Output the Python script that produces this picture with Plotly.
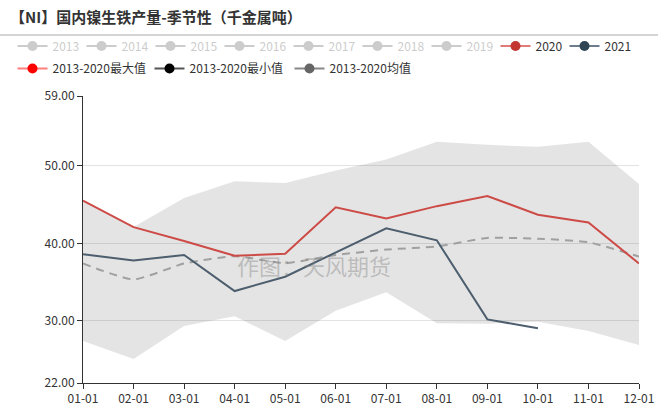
import plotly.graph_objects as go

FONT = "Noto Sans CJK SC"

months = ["01-01", "02-01", "03-01", "04-01", "05-01", "06-01",
          "07-01", "08-01", "09-01", "10-01", "11-01", "12-01"]
hidden_years = ["2013", "2014", "2015", "2016", "2017", "2018", "2019"]
y2020 = [45.5, 42.1, 40.3, 38.4, 38.65, 44.65, 43.2, 44.8, 46.1, 43.7, 42.7, 37.4]
y2021 = [38.6, 37.8, 38.5, 33.85, 35.7, 38.8, 41.95, 40.4, 30.2, 29.05]
ymax = [45.5, 42.1, 45.85, 48.0, 47.8, 49.4, 50.8, 53.1, 52.7, 52.45, 53.1, 47.65]
ymin = [27.4, 25.1, 29.35, 30.6, 27.4, 31.3, 33.7, 29.7, 29.65, 29.9, 28.7, 26.9]
ymean = [37.4, 35.35, 37.4, 38.35, 37.45, 38.5, 39.2, 39.6, 40.7, 40.6, 40.15, 38.3]
y_ticks = [22, 30, 40, 50, 59]

W, H = 662, 411
fig = go.Figure()

# band min-max
fig.add_trace(go.Scatter(x=months, y=ymin, mode="lines", line=dict(width=0),
                         showlegend=False, hoverinfo="skip"))
fig.add_trace(go.Scatter(x=months, y=ymax, mode="lines", line=dict(width=0),
                         fill="tonexty", fillcolor="rgba(0,0,0,0.105)",
                         showlegend=False, hoverinfo="skip"))
# mean
fig.add_trace(go.Scatter(x=months, y=ymean, mode="lines",
                         line=dict(color="#a0a0a0", width=2, dash="8px,6px",
                                   shape="spline", smoothing=0.5),
                         showlegend=False, legendgroup="mean"))
fig.add_trace(go.Scatter(x=months, y=y2020, mode="lines",
                         line=dict(color="#cd4b46", width=2),
                         showlegend=False, legendgroup="2020"))
fig.add_trace(go.Scatter(x=months[:len(y2021)], y=y2021, mode="lines",
                         line=dict(color="#4d5e6e", width=2),
                         showlegend=False, legendgroup="2021"))

# legend entries
legend_layouts = {}
idx = 0


def add_leg(name, line_color, marker_color, xpx, ypx, visible=True, font_color="#333", group=None):
    global idx
    idx += 1
    key = "legend" if idx == 1 else f"legend{idx}"
    fig.add_trace(go.Scatter(x=[None], y=[None], mode="lines+markers", name=name,
                             line=dict(color=line_color, width=2),
                             marker=dict(color=marker_color, size=10, line=dict(width=0)),
                             visible=visible, legend=key, legendgroup=group or name,
                             showlegend=True))
    legend_layouts[key] = dict(
        xref="container", yref="container", x=xpx / W, y=1 - ypx / H,
        xanchor="left", yanchor="middle", orientation="h",
        bgcolor="rgba(0,0,0,0)", borderwidth=0, itemwidth=30,
        font=dict(family=FONT, size=12, color=font_color))


for k, yr in enumerate(hidden_years):
    add_leg(yr, "#999999", "#999999", 12.5 + 69 * k, 46, visible="legendonly", font_color="#999999")
add_leg("2020", "#e07b77", "#c23531", 12.5 + 69 * 7, 46, group="2020")
add_leg("2021", "#6d7d8b", "#2f4554", 12.5 + 69 * 8, 46, group="2021")
add_leg("2013-2020最大值", "#ff7f7f", "#ff0000", 12.5, 68.5)
add_leg("2013-2020最小值", "#555555", "#000000", 149.5, 68.5)
add_leg("2013-2020均值", "#888888", "#666666", 289.5, 68.5, group="mean")

fig.update_layout(**legend_layouts)

fig.update_layout(
    width=W, height=H,
    margin=dict(l=83, r=23, t=96, b=28, autoexpand=False),
    paper_bgcolor="white", plot_bgcolor="white",
    font=dict(family=FONT, size=12, color="#333"),
    title=dict(text="<b>【NI】国内镍生铁产量-季节性（千金属吨）</b>",
               xref="container", yref="container", x=10 / W, y=1 - 18 / H,
               xanchor="left", yanchor="middle",
               font=dict(family=FONT, size=15, color="#333")),
    xaxis=dict(type="category", categoryorder="array", categoryarray=months,
               range=[0, len(months) - 1], showgrid=False, showline=True,
               linecolor="#333", linewidth=1, ticks="outside", ticklen=5,
               tickcolor="#333", tickfont=dict(family=FONT, size=12, color="#333"),
               zeroline=False, automargin=False),
    yaxis=dict(range=[22, 59], tickvals=y_ticks, tickformat=".2f",
               showgrid=True, gridcolor="#e3e3e3", gridwidth=1,
               showline=True, linecolor="#333", linewidth=1, ticks="outside",
               ticklen=5, tickcolor="#333", automargin=False,
               tickfont=dict(family=FONT, size=12, color="#333"), zeroline=False),
    shapes=[dict(type="line", xref="paper", yref="paper",
                 x0=-83 / 556, x1=(658 - 83) / 556,
                 y0=(383 - 35) / 287, y1=(383 - 35) / 287,
                 line=dict(color="#aaaaaa", width=1))],
    annotations=[dict(text="作图：天风期货", xref="paper", yref="paper",
                      x=(314 - 83) / 556, y=(383 - 265) / 287,
                      showarrow=False, xanchor="center", yanchor="middle",
                      font=dict(family=FONT, size=22, color="rgba(130,130,130,0.42)"))],
    hovermode=False,
)

fig.write_html("out.html")
